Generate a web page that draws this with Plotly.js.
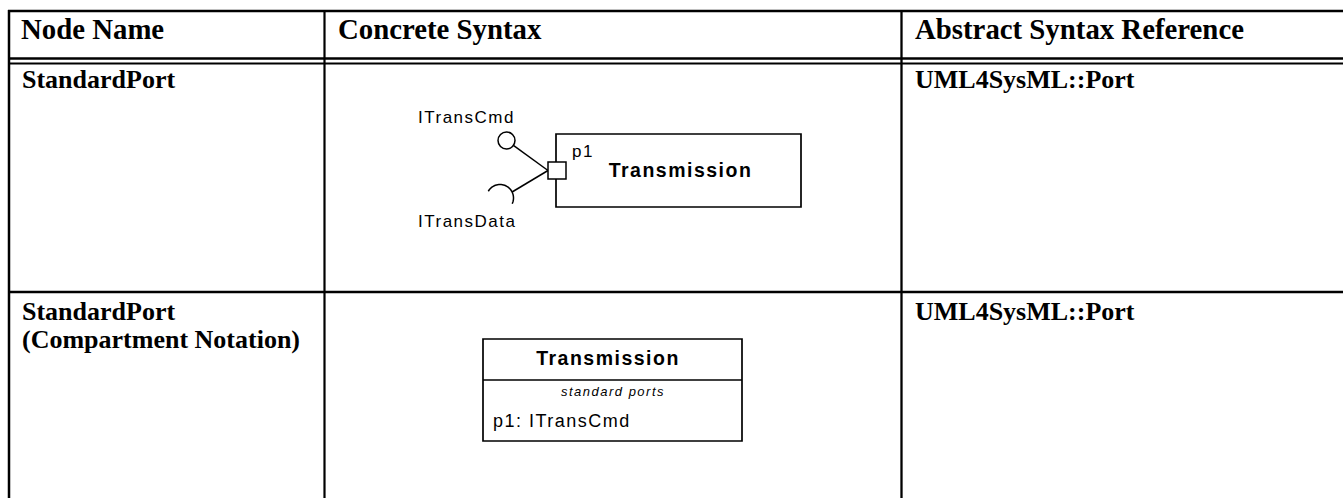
<!DOCTYPE html>
<html>
<head>
<meta charset="utf-8">
<script src="https://cdn.plot.ly/plotly-3.0.1.min.js"></script>
<style>
  html, body { margin: 0; padding: 0; background: #fff; }
  #chart { width: 1343px; height: 498px; }
  .js-plotly-plot .scatterlayer .textpoint text { letter-spacing: 1.5px; }
</style>
</head>
<body>
<div id="chart"></div>
<script>
// ---- content ----
const headers = ['Node Name', 'Concrete Syntax', 'Abstract Syntax Reference'];
const nodeNames = [['StandardPort'], ['StandardPort', '(Compartment Notation)']];
const abstractRefs = ['UML4SysML::Port', 'UML4SysML::Port'];
const blockName = 'Transmission';
const portName = 'p1';
const providedIface = 'ITransCmd';
const requiredIface = 'ITransData';
const compartmentLabel = 'standard ports';
const compartmentEntries = ['p1: ITransCmd'];

// ---- layout geometry (pixels, y downward) ----
const W = 1343, H = 498;
const colX = [9, 324.5, 901.5];
const headerTextX = [19, 336, 913];
const serif = 'Liberation Serif, Times New Roman, serif';
const sans = 'Liberation Sans, Arial, Helvetica, sans-serif';

const shapes = [];
const ln = (x0, y0, x1, y1, w) => shapes.push({type: 'line', xref: 'x', yref: 'y', x0, y0, x1, y1, line: {color: '#000', width: w}});
// table grid
ln(8, 11, W, 11, 2.5);
ln(8, 58.5, W, 58.5, 2.5);
ln(8, 63.5, W, 63.5, 2);
ln(8, 292, W, 292, 2.5);
ln(colX[0], 10, colX[0], H, 2.5);
ln(colX[1], 10, colX[1], H, 2.2);
ln(colX[2], 10, colX[2], H, 2.3);

// diagram 1: block with port
shapes.push({type: 'rect', xref: 'x', yref: 'y', x0: 556, x1: 801, y0: 134, y1: 207, line: {color: '#000', width: 1.7}, fillcolor: 'rgba(0,0,0,0)'});
// provided interface (lollipop)
ln(513.4, 145.4, 548, 170.5, 1.5);
shapes.push({type: 'circle', xref: 'x', yref: 'y', x0: 498, x1: 515, y0: 132, y1: 149, line: {color: '#000', width: 1.5}});
// required interface (socket)
ln(512.1, 192, 548, 170.5, 1.5);
let arc = '';
for (let a = -150; a <= 25; a += 5) {
  const r = a * Math.PI / 180;
  const px = 500 + 13.5 * Math.cos(r), py = 198 + 13.5 * Math.sin(r);
  arc += (arc ? ' L' : 'M') + px.toFixed(2) + ',' + py.toFixed(2);
}
shapes.push({type: 'path', xref: 'x', yref: 'y', path: arc, line: {color: '#000', width: 1.5}});
// port square
shapes.push({type: 'rect', xref: 'x', yref: 'y', x0: 548, x1: 566, y0: 162, y1: 179, line: {color: '#000', width: 1.5}, fillcolor: '#fff'});

// diagram 2: compartment block
shapes.push({type: 'rect', xref: 'x', yref: 'y', x0: 483, x1: 742, y0: 339, y1: 441, line: {color: '#000', width: 1.7}, fillcolor: 'rgba(0,0,0,0)'});
ln(483, 380, 742, 380, 1.7);

// ---- table text (annotations) ----
const annotations = [];
const ann = (text, x, baseline, size) => annotations.push({
  text, x: x - 1, y: baseline - 0.3375 * size, xref: 'x', yref: 'y',
  xanchor: 'left', yanchor: 'middle', showarrow: false,
  font: {family: serif, size, color: '#000', weight: 'bold'}
});
headers.forEach((h, i) => ann(h, headerTextX[i] + 1, 39, 28.8));
const rowBaseline = [88, 320];
nodeNames.forEach((lines, r) => lines.forEach((t, k) => ann(t, 21, rowBaseline[r] + k * 28, 26)));
abstractRefs.forEach((t, r) => ann(t, 914, rowBaseline[r], 26));

// ---- diagram text (scatter text traces) ----
const txt = (labels, xs, baselines, size, pos, extra) => ({
  type: 'scatter', mode: 'text', x: xs, y: baselines.map(b => b - 0.25 * size),
  text: labels, textposition: pos, cliponaxis: false, hoverinfo: 'skip', showlegend: false,
  textfont: Object.assign({family: sans, size, color: '#000'}, extra || {})
});
const traces = [
  txt([providedIface, requiredIface, portName], [418, 418, 572], [123, 227, 157], 17, 'middle right'),
  txt([blockName, blockName], [680.5, 608], [177, 365], 19.5, 'middle center', {weight: 'bold'}),
  txt([compartmentLabel], [613], [396], 13, 'middle center', {style: 'italic'}),
  txt(compartmentEntries, [493], [427], 18, 'middle right')
];

const layout = {
  width: W, height: H,
  margin: {l: 0, r: 0, t: 0, b: 0, pad: 0},
  paper_bgcolor: '#fff', plot_bgcolor: '#fff',
  xaxis: {range: [0, W], visible: false, fixedrange: true},
  yaxis: {range: [H, 0], visible: false, fixedrange: true},
  shapes, annotations, showlegend: false, hovermode: false
};
Plotly.newPlot('chart', traces, layout, {staticPlot: true, displayModeBar: false});
</script>
</body>
</html>
